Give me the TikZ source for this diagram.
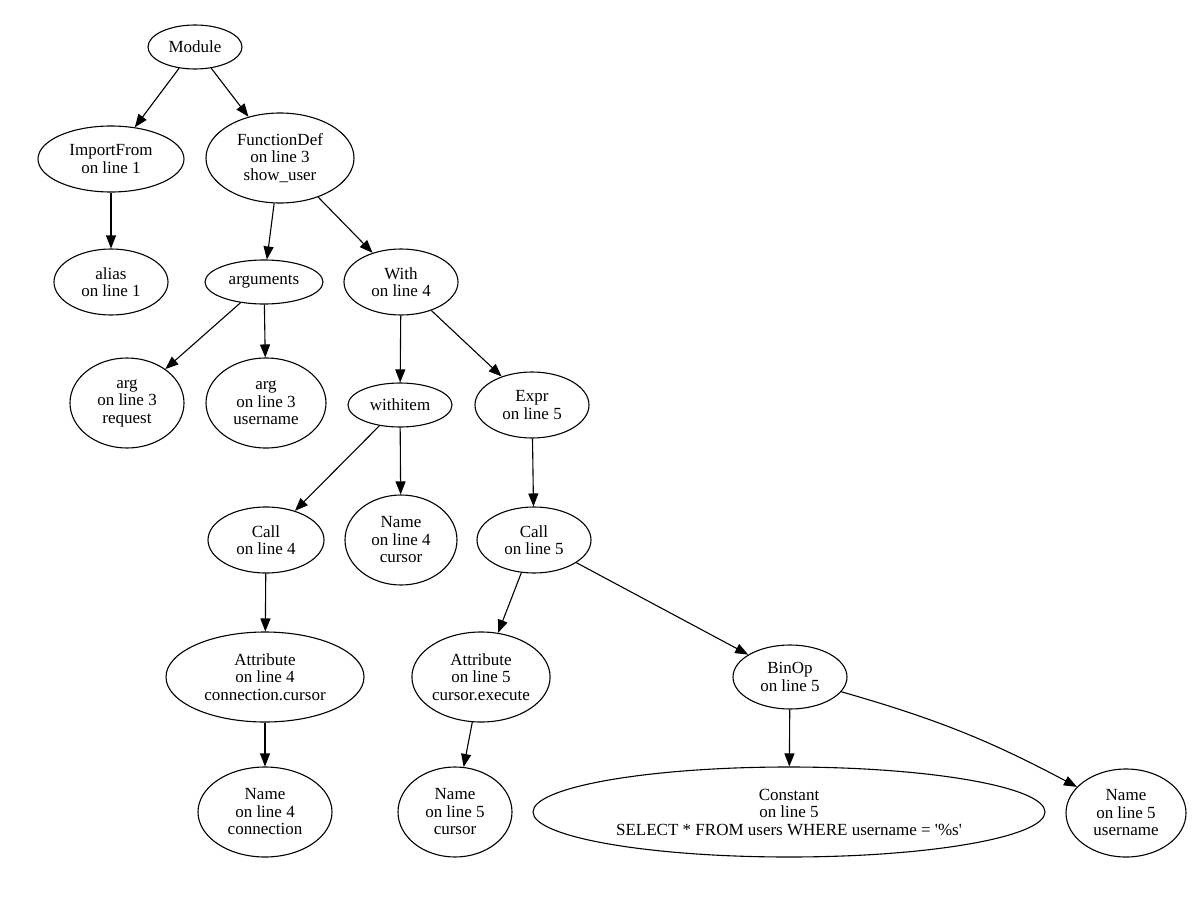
\documentclass[tikz,border=0pt]{standalone}
\usepackage{fontspec}
\setmainfont{Liberation Serif}
\usetikzlibrary{shapes.geometric,arrows.meta}
\begin{document}
\begin{tikzpicture}[x=1pt,y=-1pt,
  astnode/.style={ellipse,draw=black,line width=1.1pt,inner sep=0pt,align=center,
    font=\fontsize{17}{17.5}\selectfont},
  edge/.style={line width=1.1pt,-{Triangle[length=13pt,width=10pt]}}]
\useasboundingbox (0,0) rectangle (1200,907);
\node[astnode,minimum width=94pt,minimum height=44pt] (mod) at (195,47) {Module};
\node[astnode,minimum width=146pt,minimum height=66pt] (imp) at (111,159) {ImportFrom\\on line 1};
\node[astnode,minimum width=148pt,minimum height=90pt] (fdef) at (280,158) {FunctionDef\\on line 3\\show\_user};
\node[astnode,minimum width=114pt,minimum height=66pt] (alias) at (111,282) {alias\\on line 1};
\node[astnode,minimum width=118pt,minimum height=44pt] (args) at (264,282) {arguments};
\node[astnode,minimum width=114pt,minimum height=66pt] (with) at (401,282) {With\\on line 4};
\node[astnode,minimum width=114pt,minimum height=90pt] (argreq) at (127,403) {arg\\on line 3\\request};
\node[astnode,minimum width=120pt,minimum height=90pt] (argusr) at (266,403) {arg\\on line 3\\username};
\node[astnode,minimum width=104pt,minimum height=44pt] (witem) at (400,405) {withitem};
\node[astnode,minimum width=114pt,minimum height=66pt] (expr) at (532,405) {Expr\\on line 5};
\node[astnode,minimum width=116pt,minimum height=66pt] (callf) at (266,540) {Call\\on line 4};
\node[astnode,minimum width=112pt,minimum height=90pt] (namecurf) at (401,540) {Name\\on line 4\\cursor};
\node[astnode,minimum width=114pt,minimum height=66pt] (callv) at (534,540) {Call\\on line 5};
\node[astnode,minimum width=198pt,minimum height=90pt] (attrf) at (265,677) {Attribute\\on line 4\\connection.cursor};
\node[astnode,minimum width=126pt,minimum height=90pt] (attrv) at (481,677) {Attribute\\on line 5\\cursor.execute};
\node[astnode,minimum width=114pt,minimum height=64pt] (binop) at (790,677) {BinOp\\on line 5};
\node[astnode,minimum width=134pt,minimum height=90pt] (namecon) at (265,812) {Name\\on line 4\\connection};
\node[astnode,minimum width=114pt,minimum height=90pt] (namecurv) at (455,812) {Name\\on line 5\\cursor};
\node[astnode,minimum width=512pt,minimum height=90pt] (const) at (789,812) {Constant\\on line 5\\SELECT * FROM users WHERE username = \textquotesingle\%s\textquotesingle};
\node[astnode,minimum width=120pt,minimum height=88pt] (nameusr) at (1126,813) {Name\\on line 5\\username};
\draw[edge] (mod) -- (imp);
\draw[edge] (mod) -- (fdef);
\draw[edge] (imp) -- (alias);
\draw[edge] (fdef) -- (args);
\draw[edge] (fdef) -- (with);
\draw[edge] (args) -- (argreq);
\draw[edge] (args) -- (argusr);
\draw[edge] (with) -- (witem);
\draw[edge] (with) -- (expr);
\draw[edge] (witem) -- (callf);
\draw[edge] (witem) -- (namecurf);
\draw[edge] (expr) -- (callv);
\draw[edge] (callf) -- (attrf);
\draw[edge] (attrf) -- (namecon);
\draw[edge] (callv) -- (attrv);
\draw[edge] (callv) -- (binop);
\draw[edge] (attrv) -- (namecurv);
\draw[edge] (binop) -- (const);
\draw[edge] (binop) to[bend left=6] (nameusr);
\end{tikzpicture}
\end{document}
